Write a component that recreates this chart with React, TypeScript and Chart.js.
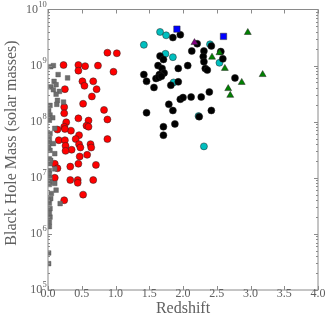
import React, { useEffect, useRef } from 'react';
import { Chart, registerables } from 'chart.js';
Chart.register(...registerables);

// Redshift / log10(black hole mass) per sample
const grayZ = [0.04, 0.08, 0.15, 0.29, 0.09, 0.12, 0.04, 0.08, 0.17, 0.12, 0.14, 0.03, 0.23, 0.13, 0.03, 0.07, 0.02, 0.10, 0.03, 0.02, 0.02, 0.10, 0.03, 0.02, 0.03, 0.02, 0.03, 0.10, 0.12, 0.05, 0.18, 0.03, 0.03, 0.02, 0.02, 0.01, 0.01, 0.08, 0.04, 0.02, 0.03, 0.02, 0.04, 0.02, 0.02, 0.01, 0.01, 0.01, 0.005, 0.10];
const grayLogM = [8.98, 9.0, 8.84, 8.78, 8.72, 8.66, 8.62, 8.57, 8.54, 8.49, 8.38, 8.29, 8.35, 8.31, 8.12, 8.07, 8.03, 7.88, 7.79, 7.70, 7.62, 7.43, 7.49, 7.34, 7.25, 7.13, 6.99, 6.90, 6.78, 6.72, 6.54, 6.45, 6.30, 6.21, 6.13, 5.66, 5.47, 7.61, 7.31, 7.07, 6.92, 6.88, 6.63, 6.55, 6.37, 8.20, 7.55, 7.00, 6.60, 7.16];

const redZ = [0.88, 1.02, 0.23, 0.45, 0.55, 0.74, 0.45, 0.97, 0.51, 0.67, 0.54, 0.25, 0.72, 0.65, 0.52, 0.24, 0.83, 0.24, 0.45, 0.60, 0.88, 0.27, 0.57, 0.60, 0.14, 0.24, 0.34, 0.25, 0.46, 0.41, 0.16, 0.25, 0.88, 0.63, 0.46, 0.26, 0.35, 0.48, 0.64, 0.58, 0.47, 0.26, 0.10, 0.14, 0.45, 0.33, 0.71, 0.10, 0.33, 0.44, 0.44, 0.67, 0.52, 0.24];
const redLogM = [9.23, 9.22, 9.01, 9.01, 8.99, 9.00, 8.91, 8.89, 8.72, 8.72, 8.64, 8.58, 8.58, 8.45, 8.32, 8.26, 8.21, 8.15, 8.06, 8.02, 8.04, 7.99, 7.93, 7.91, 7.86, 7.91, 7.84, 7.87, 7.76, 7.69, 7.67, 7.67, 7.69, 7.60, 7.60, 7.57, 7.50, 7.54, 7.54, 7.41, 7.38, 7.48, 7.25, 7.17, 7.25, 7.20, 7.23, 7.00, 6.96, 6.96, 6.91, 6.96, 6.70, 6.60];

const purpleZ = [2.17];
const purpleLogM = [9.41];

const greenZ = [2.96, 2.43, 2.54, 2.62, 3.18, 2.87, 2.67, 2.70];
const greenLogM = [9.59, 9.15, 9.23, 8.95, 8.84, 8.70, 8.59, 8.47];

const blackZ = [1.85, 1.96, 2.21, 2.13, 2.31, 2.42, 2.56, 2.30, 2.59, 2.31, 1.66, 1.71, 1.63, 1.69, 2.07, 1.93, 2.33, 2.36, 1.42, 1.72, 1.65, 1.46, 1.60, 1.64, 1.68, 1.57, 1.82, 1.93, 2.77, 1.96, 2.00, 2.12, 2.27, 2.39, 1.79, 1.85, 1.46, 2.42, 2.24, 1.71, 1.88, 1.71];
const blackLogM = [9.50, 9.55, 9.39, 9.26, 9.26, 9.35, 9.25, 9.16, 9.12, 9.07, 9.17, 9.11, 9.00, 8.95, 9.00, 8.95, 8.95, 8.92, 8.84, 8.87, 8.84, 8.72, 8.77, 8.79, 8.81, 8.61, 8.65, 8.71, 8.78, 8.40, 8.43, 8.44, 8.44, 8.53, 8.31, 8.20, 8.16, 8.20, 8.09, 7.91, 7.96, 7.76];

const blueZ = [1.91, 2.60];
const blueLogM = [9.65, 9.52];

const cyanZ = [1.66, 1.75, 1.42, 2.40, 1.74, 1.85, 2.54, 1.86, 2.23, 2.31];
const cyanLogM = [9.60, 9.54, 9.37, 9.38, 9.21, 9.15, 9.05, 8.70, 8.10, 7.56];

const xTicks = [0, 0.5, 1, 1.5, 2, 2.5, 3, 3.5, 4];
const yExps = [5, 6, 7, 8, 9, 10];

const pts = (zs: number[], ms: number[]) => zs.map((z, i) => ({ x: z, y: Math.pow(10, ms[i]) }));

const TEXT = '#606060';
const FRAME = '#8a8a8a';
const SERIF = '"Liberation Serif", "DejaVu Serif", serif';

const framePlugin = {
  id: 'frame',
  afterDatasetsDraw(chart: any) {
    const { ctx, chartArea: a, scales } = chart;
    const x = scales.x, y = scales.y;
    ctx.save();
    ctx.strokeStyle = FRAME;
    ctx.lineWidth = 1;
    ctx.strokeRect(a.left, a.top, a.right - a.left, a.bottom - a.top);
    ctx.beginPath();
    for (const t of xTicks) {
      const px = Math.round(x.getPixelForValue(t)) + 0.5;
      ctx.moveTo(px, a.bottom); ctx.lineTo(px, a.bottom - 4);
      ctx.moveTo(px, a.top); ctx.lineTo(px, a.top + 4);
    }
    for (let e = 5; e < 10; e++) {
      for (let m = 1; m < 10; m++) {
        const py = Math.round(y.getPixelForValue(m * Math.pow(10, e))) + 0.5;
        const len = m === 1 ? 4 : 2;
        ctx.moveTo(a.left, py); ctx.lineTo(a.left + len, py);
        ctx.moveTo(a.right, py); ctx.lineTo(a.right - len, py);
      }
    }
    ctx.stroke();

    ctx.fillStyle = TEXT;
    ctx.font = `12px ${SERIF}`;
    ctx.textAlign = 'center';
    ctx.textBaseline = 'middle';
    for (const t of xTicks) {
      ctx.fillText(t.toFixed(1), x.getPixelForValue(t), a.bottom + 4);
    }
    for (const e of yExps) {
      const py = y.getPixelForValue(Math.pow(10, e));
      ctx.font = `12px ${SERIF}`;
      const w1 = ctx.measureText('10').width;
      ctx.font = `8.5px ${SERIF}`;
      const w2 = ctx.measureText(String(e)).width;
      const start = a.left - 1.5 - w1 - w2;
      ctx.textAlign = 'left';
      ctx.font = `12px ${SERIF}`;
      ctx.fillText('10', start, py);
      ctx.font = `8.5px ${SERIF}`;
      ctx.fillText(String(e), start + w1 + 0.3, py - 5);
    }
    ctx.font = `16px ${SERIF}`;
    ctx.textAlign = 'center';
    ctx.fillText('Redshift', (a.left + a.right) / 2, a.bottom + 18.5);
    ctx.translate(11.5, 143);
    ctx.rotate(-Math.PI / 2);
    ctx.fillText('Black Hole Mass (solar masses)', 0, 0);
    ctx.restore();
  },
};

export default function App() {
  const ref = useRef<HTMLCanvasElement>(null);
  useEffect(() => {
    const edge = '#222222';
    const chart = new Chart(ref.current!, {
      type: 'scatter',
      data: {
        datasets: [
          { data: pts(grayZ, grayLogM), pointStyle: 'rect', pointRadius: 3.3, backgroundColor: '#6e6e6e', borderColor: '#555555', borderWidth: 0.4, clip: 0 },
          { data: pts(redZ, redLogM), pointStyle: 'circle', pointRadius: 3.5, backgroundColor: '#ff0000', borderColor: edge, borderWidth: 0.5, clip: 0 },
          { data: pts(purpleZ, purpleLogM), pointStyle: 'triangle', pointRadius: 4, backgroundColor: '#800080', borderColor: edge, borderWidth: 0.5, clip: 0 },
          { data: pts(greenZ, greenLogM), pointStyle: 'triangle', pointRadius: 4, backgroundColor: '#008000', borderColor: edge, borderWidth: 0.5, clip: 0 },
          { data: pts(blueZ, blueLogM), pointStyle: 'rect', pointRadius: 4.5, backgroundColor: '#0000ff', borderColor: edge, borderWidth: 0.5, clip: 0 },
          { data: pts(blackZ, blackLogM), pointStyle: 'circle', pointRadius: 3.5, backgroundColor: '#000000', borderColor: edge, borderWidth: 0.5, clip: 0 },
          { data: pts(cyanZ, cyanLogM), pointStyle: 'circle', pointRadius: 3.5, backgroundColor: '#00bfbf', borderColor: edge, borderWidth: 0.5, clip: 0 },
        ] as any,
      },
      options: {
        animation: false,
        responsive: false,
        devicePixelRatio: 1,
        layout: { padding: { left: 48, right: 13, top: 9.5, bottom: 36 } },
        plugins: { legend: { display: false }, tooltip: { enabled: false } },
        scales: {
          x: { type: 'linear', min: 0, max: 4, display: false },
          y: { type: 'logarithmic', min: 1e5, max: 1e10, display: false },
        },
      } as any,
      plugins: [framePlugin],
    });
    return () => chart.destroy();
  }, []);
  return (
    <div style={{ position: 'fixed', left: 0, top: 0, width: 331, height: 326, background: '#fff' }}>
      <canvas ref={ref} width={331} height={326} />
    </div>
  );
}
